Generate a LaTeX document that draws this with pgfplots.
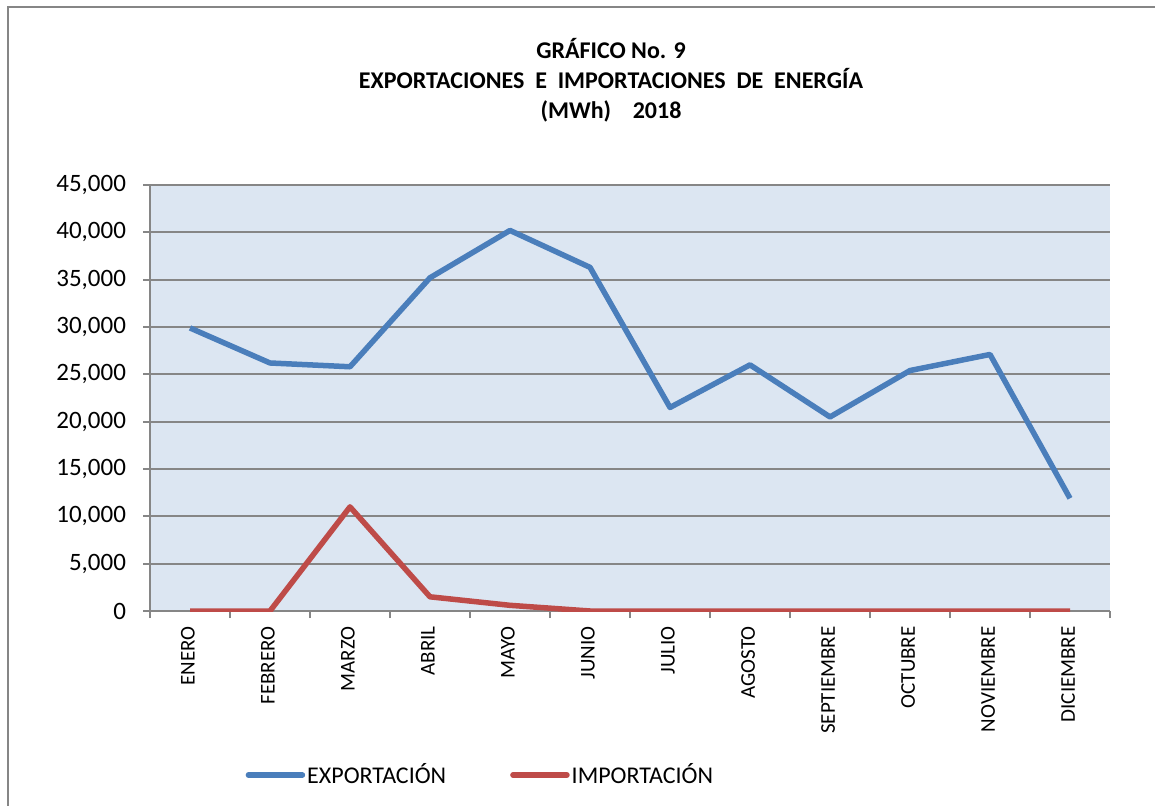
\documentclass[border=0pt]{standalone}
\usepackage{pgfplots}
\pgfplotsset{compat=1.18}
\usepackage{fontspec}
\setmainfont{Carlito}

\definecolor{expblue}{HTML}{4A7EBB}
\definecolor{impred}{HTML}{BE4B48}
\definecolor{plotbg}{HTML}{DCE6F2}
\definecolor{gridgray}{HTML}{868686}

\begin{document}
\begin{tikzpicture}
% picture = 1155x806 px, 1 px = 0.5pt, origin top-left
\useasboundingbox (0,0) rectangle (577.5pt,-403pt);
\draw[gridgray, line width=1pt] (4pt,-403pt) -- (4pt,-3.5pt) -- (577.5pt,-3.5pt);

\node[align=center, font=\fontsize{12}{15}\selectfont\bfseries] at (305.5pt,-40pt)
  {GRÁFICO No. 9\\EXPORTACIONES~~E~~IMPORTACIONES~~DE~~ENERGÍA\\(MWh)~~~~2018};

\begin{axis}[
    at={(75pt,-305.5pt)}, anchor=south west,
    scale only axis,
    width=480pt, height=213pt,
    axis background/.style={fill=plotbg},
    xmin=-0.5, xmax=11.5,
    ymin=0, ymax=45000,
    ytick={0,5000,...,45000},
    xtick={0,...,11},
    xticklabels={ENERO,FEBRERO,MARZO,ABRIL,MAYO,JUNIO,JULIO,AGOSTO,SEPTIEMBRE,OCTUBRE,NOVIEMBRE,DICIEMBRE},
    axis x line*=bottom,
    axis y line*=left,
    axis line style={gridgray, line width=1pt},
    x axis line style={-}, y axis line style={-},
    tick align=outside,
    major tick length=3.5pt,
    x tick style={draw=none},
    y tick style={gridgray, line width=1pt},
    extra x ticks={-0.5,0.5,...,11.5},
    extra x tick labels={},
    extra x tick style={x tick style={draw=gridgray, line width=1pt}},
    ymajorgrids,
    major grid style={gridgray, line width=1pt},
    scaled y ticks=false,
    /pgf/number format/.cd, 1000 sep={,}, fixed, assume math mode=true,
    /pgfplots/.cd,
    yticklabel style={font=\fontsize{12.5}{15}\selectfont, xshift=-5pt},
    xticklabel style={font=\fontsize{10.5}{12}\selectfont, xshift=-1pt, yshift=-4pt, rotate=90, anchor=east, inner sep=0pt},
    legend columns=2,
    legend style={at={(0.093,-0.385)}, anchor=west, draw=none, fill=none,
        font=\fontsize{12}{14}\selectfont,
        nodes={inner sep=1pt},
        /tikz/every even column/.append style={column sep=31pt}},
    legend image code/.code={\draw[#1, line cap=round] (0pt,0pt) -- (27pt,0pt);},
]
\addplot[expblue, line width=2.75pt, line join=round] coordinates {
    (0,29900) (1,26200) (2,25800) (3,35200) (4,40200) (5,36300)
    (6,21500) (7,26000) (8,20500) (9,25400) (10,27100) (11,11900)
};
\addlegendentry{EXPORTACIÓN}
\addplot[impred, line width=2.75pt, line join=round] coordinates {
    (0,0) (1,0) (2,11000) (3,1500) (4,600) (5,0)
    (6,0) (7,0) (8,0) (9,0) (10,0) (11,0)
};
\addlegendentry{IMPORTACIÓN}
\end{axis}
\end{tikzpicture}
\end{document}
